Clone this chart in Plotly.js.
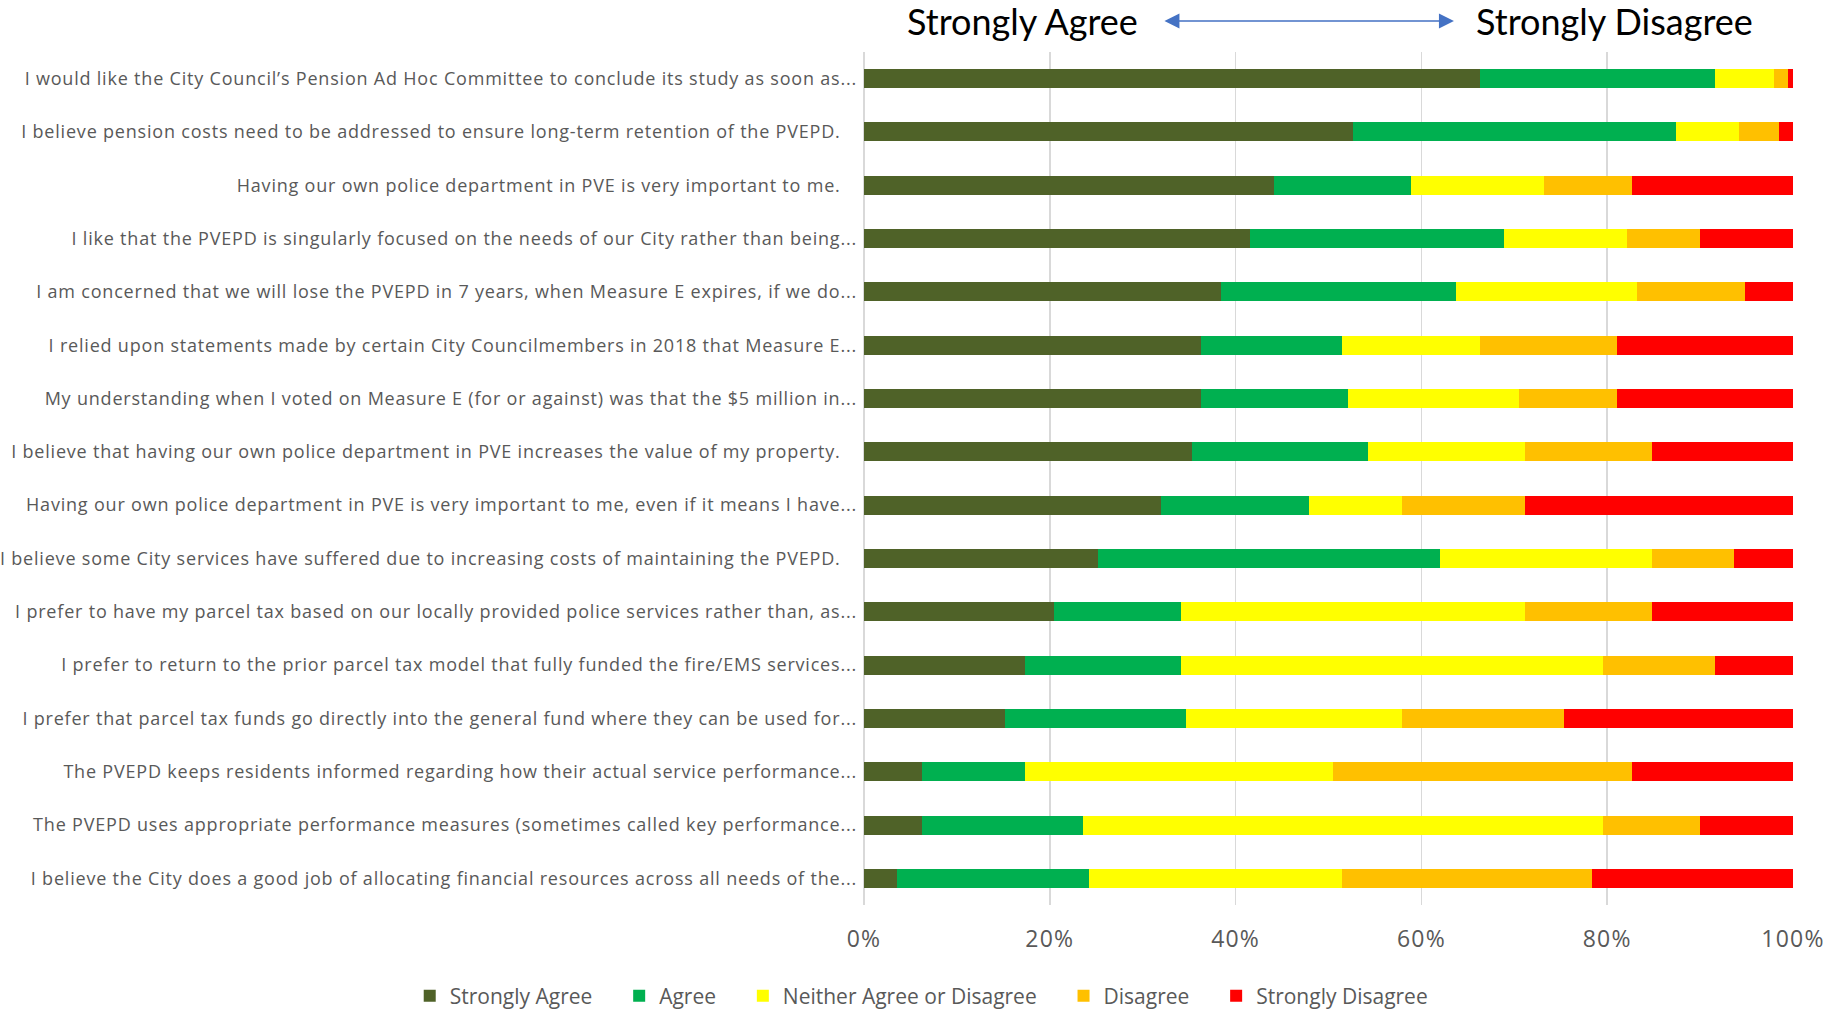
<!DOCTYPE html>
<html>
<head>
<meta charset="utf-8">
<script src="https://cdn.plot.ly/plotly-3.0.1.min.js"></script>
<style>
  html, body { margin: 0; padding: 0; background: #fff; }
  #chart { width: 1824px; height: 1011px; }
  #chart .ytick text { letter-spacing: 0.8px; }
  #chart .xtick text { letter-spacing: 1.2px; }
</style>
</head>
<body>
<div id="chart"></div>
<script>
const NB = "\u00a0\u00a0\u00a0";
const PAD = "\u00a0\u00a0\u00a0\u00a0";
const statements = [
  "I would like the City Council\u2019s Pension Ad Hoc Committee to conclude its study as soon as...",
  "I believe pension costs need to be addressed to ensure long-term retention of the PVEPD." + NB,
  "Having our own police department in PVE is very important to me." + NB,
  "I like that the PVEPD is singularly focused on the needs of our City rather than being...",
  "I am concerned that we will lose the PVEPD in 7 years, when Measure E expires, if we do...",
  "I relied upon statements made by certain City Councilmembers in 2018 that Measure E...",
  "My understanding when I voted on Measure E (for or against) was that the $5 million in...",
  "I believe that having our own police department in PVE increases the value of my property." + NB,
  "Having our own police department in PVE is very important to me, even if it means I have...",
  "I believe some City services have suffered due to increasing costs of maintaining the PVEPD." + NB,
  "I prefer to have my parcel tax based on our locally provided police services rather than, as...",
  "I prefer to return to the prior parcel tax model that fully funded the fire/EMS services...",
  "I prefer that parcel tax funds go directly into the general fund where they can be used for...",
  "The PVEPD keeps residents informed regarding how their actual service performance...",
  "The PVEPD uses appropriate performance measures (sometimes called key performance...",
  "I believe the City does a good job of allocating financial resources across all needs of the..."
];

const stronglyAgree = [66.3, 52.6, 44.1, 41.6, 38.4, 36.3, 36.3, 35.3, 32.0, 25.2, 20.5, 17.3, 15.2, 6.2, 6.2, 3.6];
const agree         = [25.3, 34.8, 14.8, 27.3, 25.3, 15.2, 15.8, 18.9, 15.9, 36.8, 13.6, 16.8, 19.5, 11.1, 17.4, 20.6];
const neither       = [6.4, 6.8, 14.3, 13.2, 19.5, 14.8, 18.4, 16.9, 10.0, 22.8, 37.0, 45.4, 23.2, 33.2, 55.9, 27.3];
const disagree      = [1.5, 4.3, 9.5, 7.9, 11.6, 14.8, 10.6, 13.7, 13.2, 8.9, 13.7, 12.1, 17.4, 32.2, 10.5, 26.9];
const stronglyDis   = [0.5, 1.5, 17.3, 10.0, 5.2, 18.9, 18.9, 15.2, 28.9, 6.3, 15.2, 8.4, 24.7, 17.3, 10.0, 21.6];

const seriesNames = ["Strongly Agree", "Agree", "Neither Agree or Disagree", "Disagree", "Strongly Disagree"];
const seriesColors = ["#4F6228", "#00B050", "#FFFF00", "#FFC000", "#FF0000"];
const seriesValues = [stronglyAgree, agree, neither, disagree, stronglyDis];
const tickVals = [0, 20, 40, 60, 80, 100];
const tickText = ["0%", "20%", "40%", "60%", "80%", "100%"];

const FONT = "'Open Sans', Lato, sans-serif";
const HFONT = "Lato, 'Open Sans', sans-serif";

const traces = seriesNames.map((n, i) => ({
  type: "bar",
  orientation: "h",
  name: i < seriesNames.length - 1 ? n + PAD : n,
  y: statements,
  x: seriesValues[i],
  marker: { color: seriesColors[i], line: { width: 0 } },
  hoverinfo: "name+x"
}));

const layout = {
  width: 1824,
  height: 1011,
  barmode: "stack",
  bargap: 0.643,
  paper_bgcolor: "#ffffff",
  plot_bgcolor: "#ffffff",
  margin: { l: 864, r: 31, t: 52, b: 106, pad: 0, autoexpand: false },
  font: { family: FONT, color: "#595959" },
  showlegend: true,
  legend: {
    orientation: "h",
    xref: "paper", yref: "paper",
    x: -0.489, xanchor: "left",
    y: -0.1067, yanchor: "middle",
    font: { size: 21, color: "#595959", family: FONT },
    traceorder: "normal",
    itemwidth: 30
  },
  xaxis: {
    range: [0, 100],
    tickvals: tickVals,
    ticktext: tickText,
    tickfont: { size: 23, color: "#595959", family: FONT },
    showgrid: true,
    gridcolor: "#D9D9D9",
    gridwidth: 1.5,
    zeroline: true,
    zerolinecolor: "#D9D9D9",
    zerolinewidth: 1.5,
    showline: false,
    ticks: "",
    ticklabelstandoff: 18,
    fixedrange: true
  },
  yaxis: {
    autorange: "reversed",
    tickfont: { size: 18, color: "#595959", family: FONT },
    showgrid: false,
    zeroline: false,
    showline: false,
    ticks: "",
    ticklabelstandoff: 6,
    fixedrange: true
  },
  annotations: [
    {
      xref: "paper", yref: "paper",
      x: 0.171, y: 1.0363, xanchor: "center", yanchor: "middle",
      text: "Strongly Agree", showarrow: false,
      font: { size: 36, color: "#000000", family: HFONT }
    },
    {
      xref: "paper", yref: "paper",
      x: 0.808, y: 1.0363, xanchor: "center", yanchor: "middle",
      text: "Strongly Disagree", showarrow: false,
      font: { size: 36, color: "#000000", family: HFONT }
    },
    {
      xref: "paper", yref: "paper",
      x: 0.635, y: 1.0363,
      axref: "pixel", ayref: "pixel",
      ax: -291, ay: 0,
      text: "",
      showarrow: true,
      arrowside: "end+start",
      arrowhead: 2,
      startarrowhead: 2,
      arrowsize: 2,
      startarrowsize: 2,
      arrowwidth: 1.5,
      arrowcolor: "#4472C4"
    }
  ]
};

Plotly.newPlot("chart", traces, layout, { displayModeBar: false, staticPlot: true });
</script>
</body>
</html>
